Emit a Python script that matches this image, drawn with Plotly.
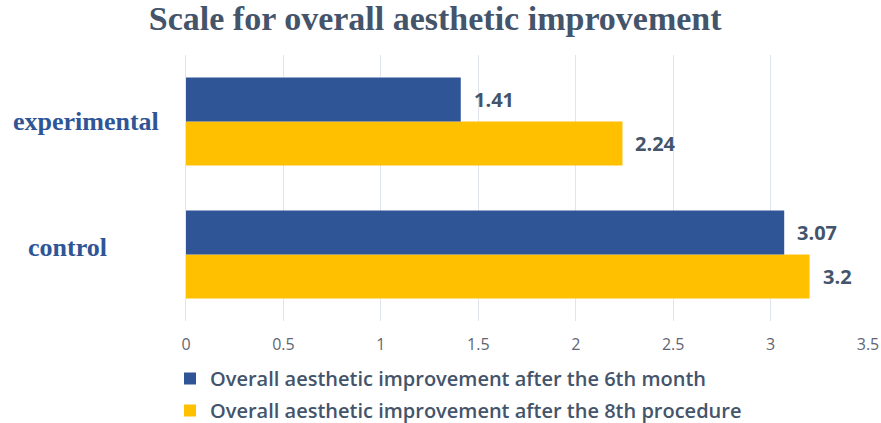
import plotly.graph_objects as go

categories = ["control", "experimental"]
series_6th_month = [3.07, 1.41]
series_8th_proc = [3.2, 2.24]
name_6th = "Overall aesthetic improvement after the 6th month"
name_8th = "Overall aesthetic improvement after the 8th procedure"
x_ticks = [0, 0.5, 1, 1.5, 2, 2.5, 3, 3.5]

BLUE = "#2f5597"
YELLOW = "#ffc000"
LABEL = "#44546a"

fig = go.Figure()
fig.add_trace(go.Bar(y=categories, x=series_8th_proc, orientation="h", name=name_8th,
                     legend="legend2",
                     marker=dict(color=YELLOW, line=dict(width=0))))
fig.add_trace(go.Bar(y=categories, x=series_6th_month, orientation="h", name=name_6th,
                     legend="legend",
                     marker=dict(color=BLUE, line=dict(width=0))))

# value labels
for vals, shift in ((series_6th_month, 22), (series_8th_proc, -22)):
    for c, v in zip(categories, vals):
        fig.add_annotation(x=v, y=c, text=f"<b>{v:g}</b>", showarrow=False,
                           xanchor="left", xshift=11, yshift=shift,
                           font=dict(family="Open Sans", size=20, color=LABEL))

# category labels
cat_x = {"experimental": -0.257, "control": -0.235}
cat_shift = {"experimental": 0, "control": 7}
for c in categories:
    fig.add_annotation(x=cat_x[c], xref="paper", y=c, text=f"<b>{c}</b>", showarrow=False,
                       xanchor="left", yshift=cat_shift[c],
                       font=dict(family="Liberation Serif", size=26, color=BLUE))

legend_style = dict(orientation="v", xref="container", x=170 / 881, xanchor="left",
                    yref="container", yanchor="top", itemwidth=30,
                    font=dict(family="Open Sans", size=20, color=LABEL, weight=600))

fig.update_layout(
    width=881, height=423,
    margin=dict(l=186, r=13, t=55, b=102, autoexpand=False),
    paper_bgcolor="white", plot_bgcolor="white",
    barmode="group", bargap=0.338, bargroupgap=0,
    title=dict(text="<b>Scale for overall aesthetic improvement</b>", x=0.494, xanchor="center",
               y=0.957, yanchor="middle",
               font=dict(family="Liberation Serif", size=34, color=LABEL)),
    xaxis=dict(range=[0, 3.5], tickvals=x_ticks, ticktext=[f"{t:g}" for t in x_ticks],
               showgrid=True, gridcolor="#e1e6ee", gridwidth=1.3, zeroline=False,
               showline=False, ticks="", ticklabelstandoff=12, automargin=False,
               tickangle=0,
               tickfont=dict(family="Open Sans", size=16, color="#5f6672")),
    yaxis=dict(categoryorder="array", categoryarray=categories, showticklabels=False,
               showgrid=False, zeroline=False, showline=True, linecolor="#e1e6ee", linewidth=1.3,
               automargin=False),
    showlegend=True,
    legend=dict(**legend_style, y=1 - 359 / 423),
    legend2=dict(**legend_style, y=1 - 391 / 423),
)

fig.write_html("out.html")
